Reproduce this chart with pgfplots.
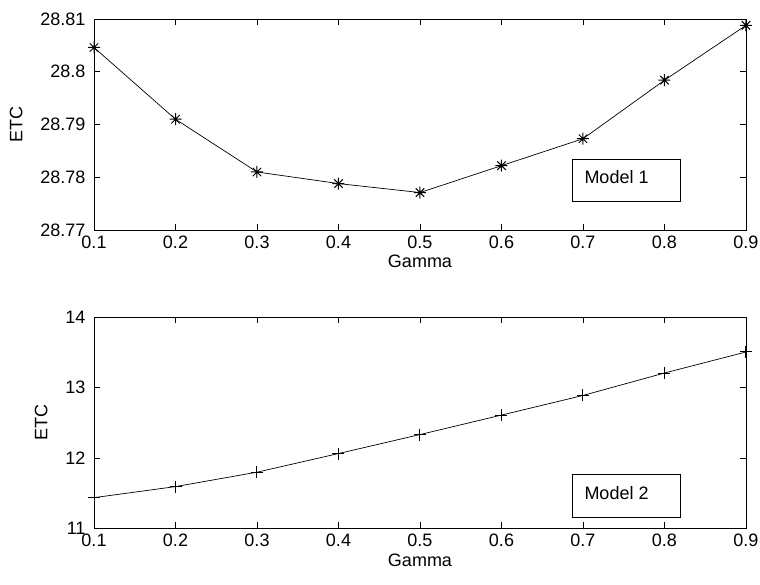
\documentclass[border=0pt]{standalone}
\usepackage{fontspec}
\setmainfont{Liberation Sans}
\usepackage{pgfplots}
\pgfplotsset{compat=1.18}

\pgfdeclareplotmark{mstar}{%
  \pgfpathmoveto{\pgfpoint{-\pgfplotmarksize}{0pt}}%
  \pgfpathlineto{\pgfpoint{\pgfplotmarksize}{0pt}}%
  \pgfpathmoveto{\pgfpoint{0pt}{-\pgfplotmarksize}}%
  \pgfpathlineto{\pgfpoint{0pt}{\pgfplotmarksize}}%
  \pgfpathmoveto{\pgfpoint{-.7\pgfplotmarksize}{-.7\pgfplotmarksize}}%
  \pgfpathlineto{\pgfpoint{.7\pgfplotmarksize}{.7\pgfplotmarksize}}%
  \pgfpathmoveto{\pgfpoint{-.7\pgfplotmarksize}{.7\pgfplotmarksize}}%
  \pgfpathlineto{\pgfpoint{.7\pgfplotmarksize}{-.7\pgfplotmarksize}}%
  \pgfusepathqstroke}

\pgfplotsset{
  mstyle/.style={
    scale only axis, width=652pt, height=211pt,
    xmin=0.1, xmax=0.9,
    xtick={0.1,0.2,0.3,0.4,0.5,0.6,0.7,0.8,0.9},
    tick align=inside, major tick length=6pt,
    axis line style={line width=0.9pt},
    every tick/.style={line width=0.9pt, black},
    /pgf/number format/assume math mode=true,
    tick label style={font=\fontsize{18}{20}\selectfont},
    label style={font=\fontsize{18}{20}\selectfont},
    yticklabel style={xshift=-5pt},
    xticklabel style={yshift=-2pt},
    ylabel style={yshift=11pt},
    xlabel={Gamma}, ylabel={ETC},
    scaled ticks=false,
    clip=false,
  }
}

\pgfplotstableread{
x y
0.1 28.8046
0.2 28.7910
0.3 28.7810
0.4 28.7788
0.5 28.7771
0.6 28.7822
0.7 28.7873
0.8 28.7984
0.9 28.8088
}\modelone

\pgfplotstableread{
x y
0.1 11.436
0.2 11.593
0.3 11.798
0.4 12.063
0.5 12.333
0.6 12.610
0.7 12.889
0.8 13.208
0.9 13.507
}\modeltwo

\begin{document}
\begin{tikzpicture}
\useasboundingbox (0,0) rectangle (760pt,-584pt);
\begin{axis}[mstyle, at={(94pt,-230pt)}, anchor=south west,
  ymin=28.77, ymax=28.81,
  ytick={28.77,28.78,28.79,28.8,28.81},
  yticklabels={28.77,28.78,28.79,28.8,28.81}]
  \addplot[black, line width=0.7pt, mark=mstar, mark size=6pt,
    mark options={line width=1pt}] table[x=x,y=y] {\modelone};
  \draw[line width=0.9pt] (rel axis cs:0.734,0.134) rectangle (rel axis cs:0.899,0.335);
  \node[anchor=west, font=\fontsize{18}{20}\selectfont, inner sep=0pt]
    at (rel axis cs:0.752,0.250) {Model 1};
\end{axis}
\begin{axis}[mstyle, at={(94pt,-528.3pt)}, anchor=south west,
  ymin=11, ymax=14, ytick={11,12,13,14}]
  \addplot[black, line width=0.7pt, mark=+, mark size=6pt,
    mark options={line width=1pt}] table[x=x,y=y] {\modeltwo};
  \draw[line width=0.9pt] (rel axis cs:0.734,0.052) rectangle (rel axis cs:0.899,0.253);
  \node[anchor=west, font=\fontsize{18}{20}\selectfont, inner sep=0pt]
    at (rel axis cs:0.752,0.168) {Model 2};
\end{axis}
\end{tikzpicture}
\end{document}
